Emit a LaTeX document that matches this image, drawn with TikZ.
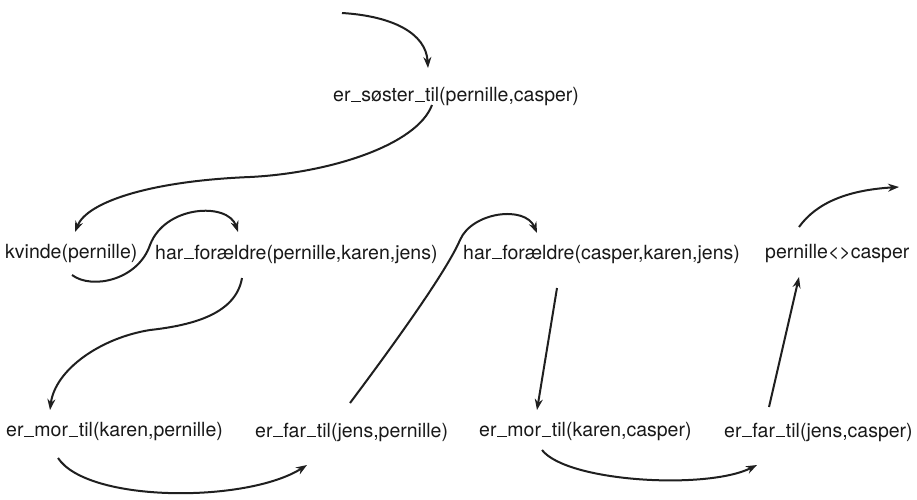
\documentclass[tikz,border=0pt]{standalone}
\usepackage{fontspec}
\setmainfont{TeX Gyre Heros}
\usetikzlibrary{arrows.meta}
\newcommand\usc{\kern0.03em\rule{0.5em}{0.07em}\kern0.03em}
\begin{document}
\begin{tikzpicture}[x=1pt,y=-1pt,
  lbl/.style={anchor=west,inner sep=0pt,font=\fontsize{19.5}{22}\selectfont,text=black!90},
  arr/.style={line width=2pt,draw=black!88,-{Stealth[length=11pt,width=8pt]}}]
\useasboundingbox[fill=white] (0,0) rectangle (917,499);

\node[lbl] (soster) at (333,97)  {er\usc søster\usc til(pernille,casper)};
\node[lbl] (kvinde) at (5,254)   {kvinde(pernille)};
\node[lbl] (harp)   at (155,254) {har\usc forældre(pernille,karen,jens)};
\node[lbl] (harc)   at (463,254) {har\usc forældre(casper,karen,jens)};
\node[lbl] (neq)    at (765,254) {pernille{<}{>}casper};
\node[lbl] (morp)   at (6,432)   {er\usc mor\usc til(karen,pernille)};
\node[lbl] (farp)   at (255,432) {er\usc far\usc til(jens,pernille)};
\node[lbl] (morc)   at (479,432) {er\usc mor\usc til(karen,casper)};
\node[lbl] (farc)   at (724,432) {er\usc far\usc til(jens,casper)};

\coordinate (topstart) at (342,13);
\coordinate (rightend) at (899,187);

\draw[arr] (topstart) .. controls +(50,3) and +(-2,-35) .. ([shift={(95,-29)}]soster.west);
\draw[arr] ([shift={(99,8)}]soster.west) .. controls +(-15,40) and +(80,-4) .. (250,177)
   .. controls +(-100,4) and +(12,-30) .. ([shift={(70,-22)}]kvinde.west);
\draw[arr] ([shift={(67,21)}]kvinde.west) .. controls +(20,15) and +(-12,35) .. (150,245)
   .. controls +(15,-40) and +(-10,-30) .. ([shift={(83,-22)}]harp.west);
\draw[arr] ([shift={(87,24)}]harp.west) .. controls +(-6,35) and +(45,-5) .. (150,330)
   .. controls +(-50,8) and +(5,-40) .. ([shift={(44,-22)}]morp.west);
\draw[arr] ([shift={(52,26)}]morp.west) .. controls +(30,45) and +(-60,38) .. ([shift={(52,33)}]farp.west);
\draw[arr] ([shift={(95,-29)}]farp.west) .. controls +(30,-40) and +(-15,35) .. (460,240)
   .. controls +(12,-28) and +(-12,-28) .. ([shift={(74,-21)}]harc.west);
\draw[arr] ([shift={(94,34)}]harc.west) -- ([shift={(58,-22)}]morc.west);
\draw[arr] ([shift={(63,18)}]morc.west) .. controls +(25,32) and +(-50,25) .. ([shift={(33,33)}]farc.west);
\draw[arr] ([shift={(45,-25)}]farc.west) -- ([shift={(34,23)}]neq.west);
\draw[arr] ([shift={(34,-27)}]neq.west) .. controls +(18,-25) and +(-50,3) .. (rightend);
\end{tikzpicture}
\end{document}
